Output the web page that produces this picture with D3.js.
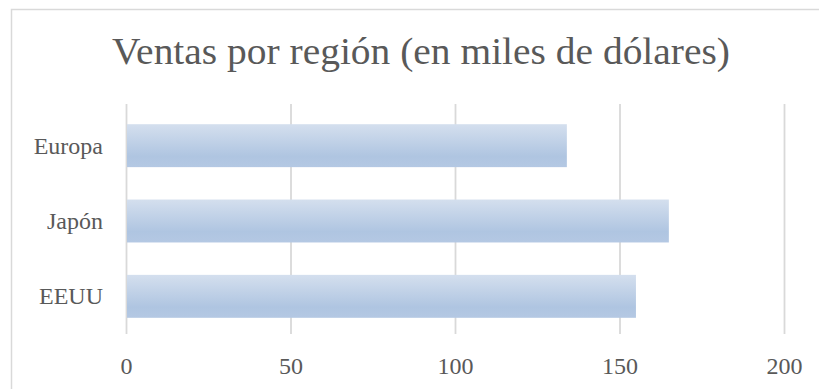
<!DOCTYPE html>
<html>
<head>
<meta charset="utf-8">
<script src="https://cdn.jsdelivr.net/npm/d3@7"></script>
<style>
  html, body { margin: 0; padding: 0; background: #ffffff; }
  svg { display: block; }
</style>
</head>
<body>
<svg id="chart" width="819" height="389"></svg>
<script>
const title = "Ventas por región (en miles de dólares)";
const categories = ["Europa", "Japón", "EEUU"];
const values = [134, 165, 155];
const xTicks = [0, 50, 100, 150, 200];

const W = 819, H = 389;
const svg = d3.select("#chart");
const FONT = "'Liberation Serif', 'DejaVu Serif', serif";
const TEXT = "#595959";
const GRID = "#d9d9d9";

// gradient
const defs = svg.append("defs");
const grad = defs.append("linearGradient")
  .attr("id", "barGrad").attr("x1", 0).attr("y1", 0).attr("x2", 0).attr("y2", 1);
grad.append("stop").attr("offset", "0%").attr("stop-color", "#d4dfee");
grad.append("stop").attr("offset", "75%").attr("stop-color", "#afc5e1");
grad.append("stop").attr("offset", "100%").attr("stop-color", "#b4c8e3");

// chart border (clipped by the viewport)
svg.append("rect")
  .attr("x", 11.5).attr("y", 9.5).attr("width", 830).attr("height", 400)
  .attr("fill", "#ffffff").attr("stroke", GRID).attr("stroke-width", 1.5);

// title
svg.append("text")
  .attr("x", 421).attr("y", 64)
  .attr("text-anchor", "middle")
  .attr("font-family", FONT).attr("font-size", 38)
  .attr("fill", TEXT)
  .attr("textLength", 618).attr("lengthAdjust", "spacingAndGlyphs")
  .text(title);

const x = d3.scaleLinear().domain([0, 200]).range([126, 784]);
const y = d3.scaleBand().domain(categories).range([108, 334])
  .paddingInner(0.43).paddingOuter(0.215);

// gridlines
const gridAxis = d3.axisBottom(x).tickValues(xTicks).tickSize(-(334 - 104)).tickFormat("");
const gG = svg.append("g").attr("transform", "translate(0,334)").call(gridAxis);
gG.select(".domain").remove();
gG.selectAll(".tick line").attr("stroke", GRID).attr("stroke-width", 1.8);

// bars
svg.append("g").selectAll("rect")
  .data(categories)
  .join("rect")
  .attr("x", x(0) + 1)
  .attr("y", d => y(d))
  .attr("width", (d, i) => x(values[i]) - x(0) - 1)
  .attr("height", y.bandwidth())
  .attr("fill", "url(#barGrad)");

// x tick labels
const xAxis = d3.axisBottom(x).tickValues(xTicks).tickSize(0).tickPadding(0).tickFormat(d3.format("d"));
const xg = svg.append("g").attr("transform", "translate(0,374)").call(xAxis);
xg.select(".domain").remove();
xg.selectAll("text")
  .attr("dy", 0).attr("y", 0)
  .attr("font-family", FONT).attr("font-size", 24).attr("fill", TEXT);

// y category labels
const yAxis = d3.axisLeft(y).tickSize(0).tickPadding(0);
const yg = svg.append("g").attr("transform", "translate(103,0)").call(yAxis);
yg.select(".domain").remove();
yg.selectAll("text")
  .attr("x", 0).attr("dy", "0.33em")
  .attr("font-family", FONT).attr("font-size", 24).attr("fill", TEXT);
</script>
</body>
</html>
